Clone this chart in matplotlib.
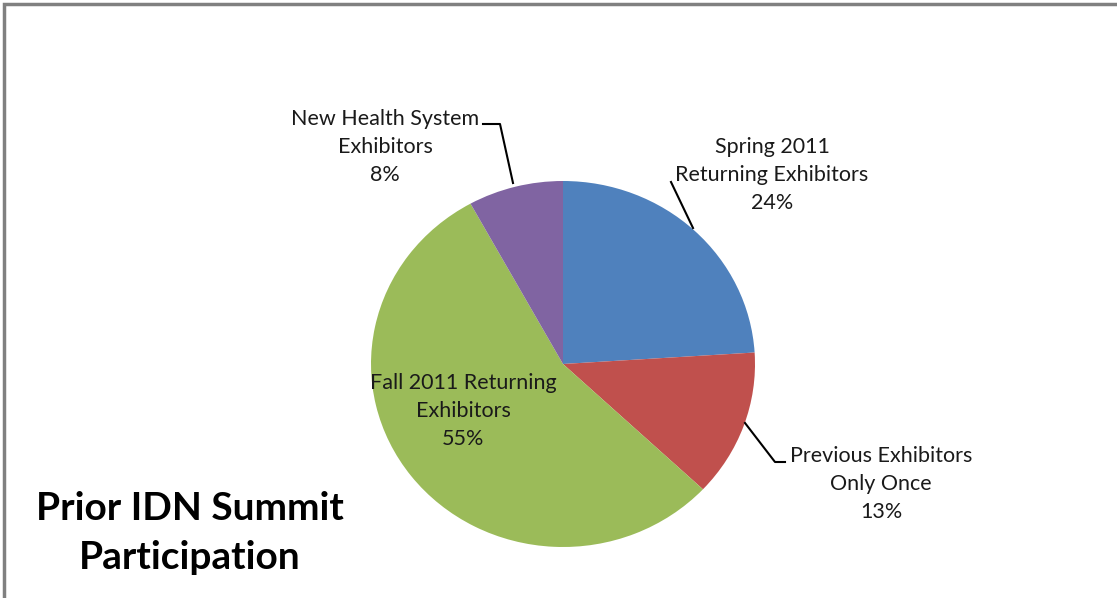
import matplotlib.pyplot as plt
from matplotlib.patches import Rectangle

# данные
labels = ['Spring 2011\nReturning Exhibitors', 'Previous Exhibitors\nOnly Once',
          'Fall 2011 Returning\nExhibitors', 'New Health System\nExhibitors']
shares = [24, 13, 55, 8]
colors = ['#4F81BD', '#C0504D', '#9BBB59', '#8064A2']

W, H = 1117, 598
fig = plt.figure(figsize=(W / 100, H / 100), dpi=100)

# рамка слайда (видны только верх и левый край)
fig.patches.append(Rectangle((4 / W, -0.1), 1.2, 1 - 4 / H + 0.1, transform=fig.transFigure,
                             fill=False, edgecolor='#808080', linewidth=2.5))

# круг немного сплющен по вертикали, как на исходной картинке
cx, cy, rx, ry = 563, 364, 192, 183
ax = fig.add_axes([(cx - rx) / W, (H - cy - ry) / H, 2 * rx / W, 2 * ry / H])
wedges, _ = ax.pie(shares, colors=colors, startangle=90, counterclock=False, radius=1)
ax.set_aspect('auto')
ax.set_xlim(-1, 1)
ax.set_ylim(-1, 1)
ax.axis('off')


def px(x, y):
    # пиксели картинки -> координаты осей
    return ((x - cx) / rx, (cy - y) / ry)


font = 'Lato'
fs = 15.5
texts = [f'{l}\n{v}%' for l, v in zip(labels, shares)]
pos = [(772, 175), (881, 484), (463, 411), (385, 147)]
for t, (x, y) in zip(texts, pos):
    ax.text(*px(x, y), t, ha='center', va='center', fontsize=fs, family=font,
            color='#1a1a1a', linespacing=1.48, clip_on=False)

# выноски
lines = [
    [(671, 182), (693, 228)],
    [(745, 423), (775, 462), (785, 462)],
    [(483, 124), (500, 124), (513, 183)],
]
for pts in lines:
    xs, ys = zip(*[px(x, y) for x, y in pts])
    ax.plot(xs, ys, color='black', linewidth=1.5, clip_on=False)

fig.text(190 / W, 1 - 533 / H, 'Prior IDN Summit\nParticipation', ha='center', va='center',
         fontsize=28, fontweight='bold', family=font, linespacing=1.45)

fig.savefig('out.png', dpi=100)
